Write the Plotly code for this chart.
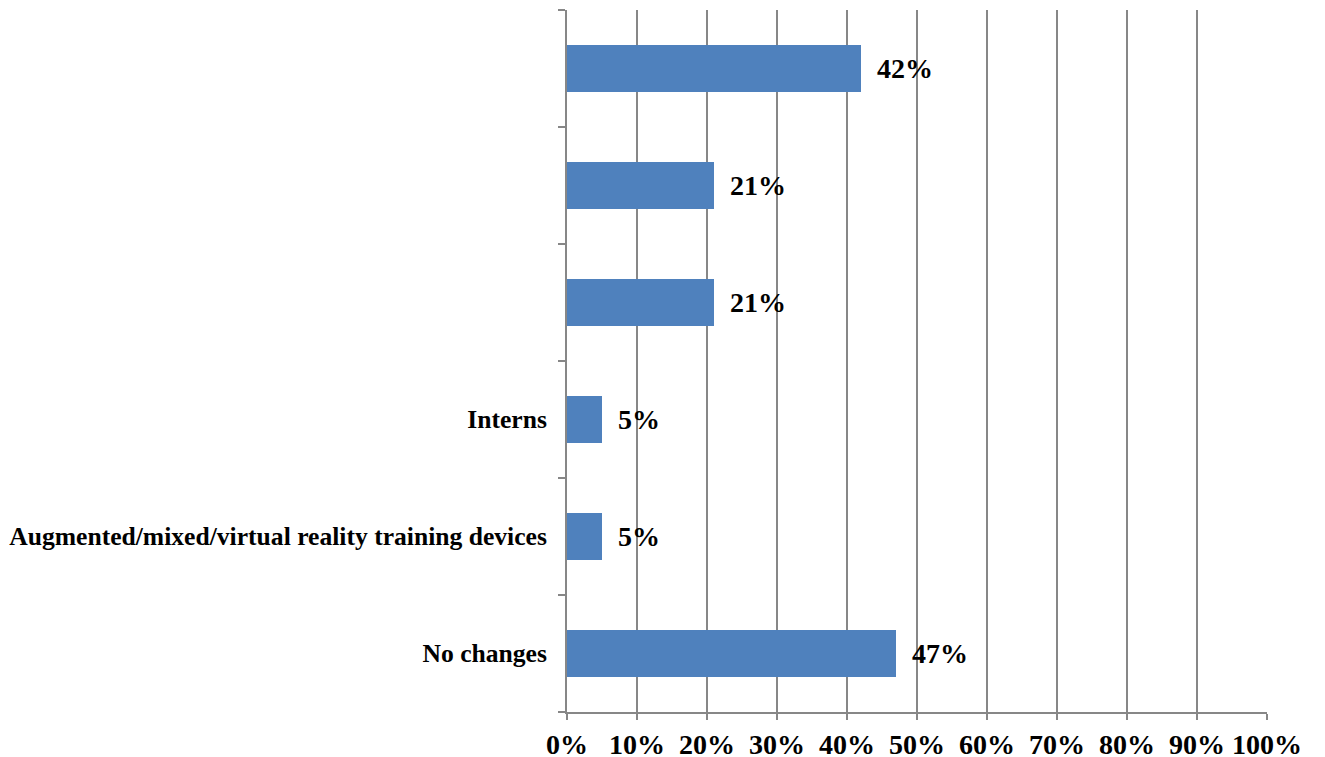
import plotly.graph_objects as go

categories = ["No changes", "Augmented/mixed/virtual reality training devices", "Interns", " ", "  ", "   "]
values = [47, 5, 5, 21, 21, 42]
value_labels = ["47%", "5%", "5%", "21%", "21%", "42%"]
x_tickvals = [0, 10, 20, 30, 40, 50, 60, 70, 80, 90, 100]
x_ticktext = ["0%", "10%", "20%", "30%", "40%", "50%", "60%", "70%", "80%", "90%", "100%"]

BAR = "#4F81BD"
GRID = "#878787"
FONT = "Liberation Serif"

fig = go.Figure(go.Bar(
    x=values, y=categories, orientation="h",
    marker=dict(color=BAR, line=dict(width=0)),
    width=0.4,
    hoverinfo="skip",
))

for v, c, t in zip(values, categories, value_labels):
    fig.add_annotation(x=v, y=c, text="<b>" + t + "</b>", showarrow=False,
                       xanchor="left", yanchor="middle", xshift=14,
                       font=dict(family=FONT, size=28, color="black"))

fig.update_layout(
    width=1325, height=757,
    margin=dict(l=559, r=66, t=2, b=53),
    paper_bgcolor="white", plot_bgcolor="white",
    showlegend=False,
    bargap=0.6,
    font=dict(family=FONT, color="black"),
)
fig.update_xaxes(
    range=[0, 100], tickvals=x_tickvals, ticktext=["<b>" + t + "</b>" for t in x_ticktext],
    showgrid=True, gridcolor=GRID, gridwidth=2,
    showline=True, linecolor=GRID, linewidth=2,
    ticks="outside", ticklen=6, tickcolor=GRID, tickwidth=2,
    tickfont=dict(family=FONT, size=28, color="black"),
    ticklabelstandoff=0, automargin=False,
    zeroline=False, fixedrange=True,
)
fig.update_yaxes(
    type="category", categoryorder="array", categoryarray=categories,
    tickvals=categories, ticktext=["<b>" + c + "</b>" if c.strip() else "" for c in categories],
    tickson="boundaries", ticks="outside", ticklen=7, tickcolor=GRID, tickwidth=2,
    showline=True, linecolor=GRID, linewidth=2,
    showgrid=False, zeroline=False,
    tickfont=dict(family=FONT, size=25.6, color="black"),
    ticklabelstandoff=13, automargin=False,
    range=[-0.5, 5.5], fixedrange=True,
)

fig.write_html("out.html")
